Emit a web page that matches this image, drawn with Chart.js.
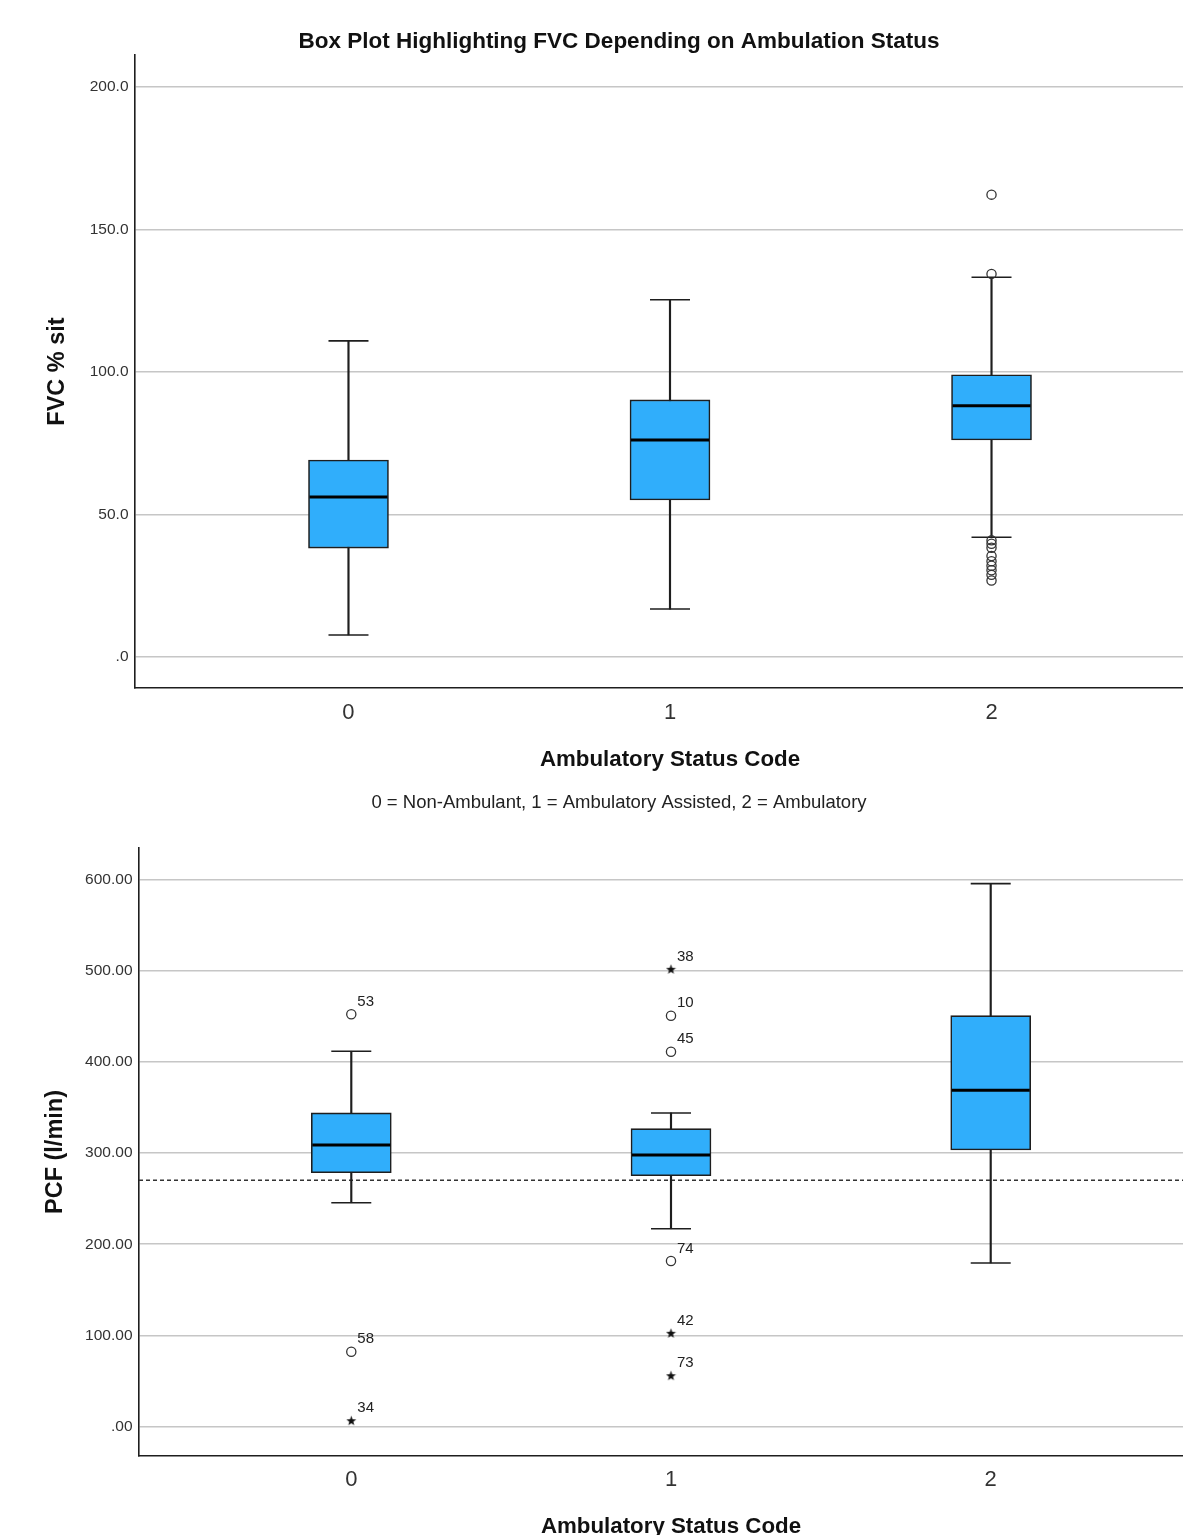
<!DOCTYPE html>
<html>
<head>
<meta charset="utf-8">
<title>Box Plot FVC / PCF by Ambulation Status</title>
<script src="https://cdn.jsdelivr.net/npm/chart.js@4.4.1/dist/chart.umd.min.js"></script>
<style>
    html, body { margin: 0; padding: 0; background: #fff; width: 1183px; height: 1535px; overflow: hidden; }
    .chart-box { position: absolute; left: 0; }
    #fvcBox { top: 0; }
    #pcfBox { top: 832px; }
</style>
</head>
<body>
<div class="chart-box" id="fvcBox"><canvas id="fvcChart" width="1238" height="830"></canvas></div>
<div class="chart-box" id="pcfBox"><canvas id="pcfChart" width="1238" height="713"></canvas></div>

<script>
// ==========================
// Data
// ==========================
const statusCodes = [0, 1, 2];
const statusLabels = ["0", "1", "2"];

// FVC % sit
const fvcLow = [7.7, 16.8, 42.0];
const fvcQ1 = [38.2, 55.1, 76.1];
const fvcMedian = [56.1, 76.1, 88.1];
const fvcQ3 = [69.1, 90.2, 99.0];
const fvcHigh = [110.9, 125.3, 133.2];
const fvcOutlierGroup = [2, 2, 2, 2, 2, 2, 2, 2, 2, 2, 2];
const fvcOutliers = [162.2, 134.4, 40.9, 39.7, 38.3, 35.4, 33.6, 32.0, 30.4, 28.8, 26.8];
const fvcTicks = [0, 50, 100, 150, 200];
const fvcTickLabels = [".0", "50.0", "100.0", "150.0", "200.0"];
const fvcRange = [-10.9, 211.2];

// PCF (l/min)
const pcfLow = [245.5, 217.0, 179.4];
const pcfQ1 = [278.4, 275.1, 303.3];
const pcfMedian = [308.8, 297.8, 368.7];
const pcfQ3 = [343.9, 326.7, 450.5];
const pcfHigh = [411.5, 343.9, 595.2];
const pcfCircleGroup = [0, 0, 1, 1, 1];
const pcfCircles = [452.0, 82.2, 450.5, 411.0, 181.6];
const pcfCircleIds = ["53", "58", "10", "45", "74"];
const pcfStarGroup = [0, 1, 1, 1];
const pcfStars = [6.6, 501.4, 102.4, 55.9];
const pcfStarIds = ["34", "38", "42", "73"];
const pcfCutoff = 270;
const pcfTicks = [0, 100, 200, 300, 400, 500, 600];
const pcfTickLabels = [".00", "100.00", "200.00", "300.00", "400.00", "500.00", "600.00"];
const pcfRange = [-32.1, 634.3];

const xRange = [-0.664, 2.664];

// ==========================
// Styling
// ==========================
const FONT = '"Liberation Sans", Arial, sans-serif';
const BOX_FILL = "#30aefb";
const INK = "#1e1e1e";
const GRID = "#c6c6c6";

// small filled star used for extreme values
function makeStar() {
    const c = document.createElement("canvas");
    c.width = 11; c.height = 11;
    const g = c.getContext("2d");
    g.fillStyle = "#111";
    g.beginPath();
    for (let i = 0; i < 10; i++) {
        const r = i % 2 === 0 ? 5.2 : 2.1;
        const a = -Math.PI / 2 + i * Math.PI / 5;
        g.lineTo(5.5 + r * Math.cos(a), 5.8 + r * Math.sin(a));
    }
    g.closePath();
    g.fill();
    return c;
}
const starImg = makeStar();

// ==========================
// Outlier id labels
// ==========================
const outlierLabels = {
    id: "outlierLabels",
    afterDatasetsDraw(chart) {
        const ctx = chart.ctx;
        chart.data.datasets.forEach((ds, i) => {
            if (!ds.ids) return;
            const meta = chart.getDatasetMeta(i);
            ctx.save();
            ctx.font = "15px " + FONT;
            ctx.fillStyle = "#222";
            ctx.textBaseline = "alphabetic";
            meta.data.forEach((pt, j) => ctx.fillText(ds.ids[j], pt.x + 6, pt.y - 8.5));
            ctx.restore();
        });
    }
};

// ==========================
// Box plot datasets
// ==========================
function boxDatasets(low, q1, med, q3, high) {
    return [
        {
            type: "bar",
            data: statusCodes.map((c, i) => ({ x: c, y: [q1[i], q3[i]] })),
            backgroundColor: BOX_FILL,
            borderColor: INK,
            borderWidth: 1.6,
            borderSkipped: false,
            barThickness: 80,
            grouped: false,
            order: 2
        },
        {
            type: "bar",
            data: statusCodes.map((c, i) => ({ x: c, y: [low[i], high[i]] })),
            backgroundColor: INK,
            borderWidth: 0,
            barThickness: 1.5,
            grouped: false,
            order: 3
        },
        {
            type: "scatter",
            data: statusCodes.map((c, i) => ({ x: c, y: low[i] }))
                .concat(statusCodes.map((c, i) => ({ x: c, y: high[i] }))),
            pointStyle: "line",
            pointRadius: 20,
            borderColor: INK,
            borderWidth: 1.6,
            order: 1
        },
        {
            type: "scatter",
            data: statusCodes.map((c, i) => ({ x: c, y: med[i] })),
            pointStyle: "line",
            pointRadius: 39,
            borderColor: "#000",
            borderWidth: 3,
            order: 0
        }
    ];
}

function circleDataset(groups, values, ids) {
    return {
        type: "scatter",
        data: groups.map((g, i) => ({ x: g, y: values[i] })),
        ids: ids,
        pointStyle: "circle",
        pointRadius: 4.6,
        backgroundColor: "rgba(255,255,255,0)",
        borderColor: "#333",
        borderWidth: 1.3,
        order: 0
    };
}

// ==========================
// Chart builder
// ==========================
function buildChart(canvasId, opt) {
    const ctx = document.getElementById(canvasId).getContext("2d");
    return new Chart(ctx, {
        type: "bar",
        data: { datasets: opt.datasets },
        options: {
            responsive: false,
            animation: false,
            events: [],
            layout: { padding: opt.padding, autoPadding: false },
            plugins: {
                legend: { display: false },
                tooltip: { enabled: false },
                title: opt.title,
                subtitle: opt.subtitle
            },
            scales: {
                x: {
                    type: "linear",
                    min: xRange[0],
                    max: xRange[1],
                    offset: false,
                    afterBuildTicks: s => { s.ticks = statusCodes.map(v => ({ value: v })); },
                    afterFit: s => { s.height = opt.xHeight; },
                    ticks: {
                        padding: opt.xTickPad,
                        color: "#333",
                        font: { family: FONT, size: 22, lineHeight: 1.2 },
                        callback: v => statusLabels[statusCodes.indexOf(v)]
                    },
                    grid: { color: "rgba(0,0,0,0)", drawTicks: false, offset: false },
                    border: { display: true, color: INK, width: 1.6 },
                    title: {
                        display: true,
                        text: "Ambulatory Status Code",
                        color: "#111",
                        padding: { top: 0, bottom: 0 },
                        font: { family: FONT, size: 22.3, weight: "bold", lineHeight: 1.2 }
                    }
                },
                y: {
                    min: opt.yRange[0],
                    max: opt.yRange[1],
                    beginAtZero: false,
                    afterBuildTicks: s => { s.ticks = opt.yTicks.map(v => ({ value: v })); },
                    afterFit: s => { s.width = opt.yWidth; },
                    ticks: {
                        padding: 6.5,
                        color: "#333",
                        font: { family: FONT, size: 15.5 },
                        callback: v => opt.yTickLabels[opt.yTicks.indexOf(v)]
                    },
                    grid: { color: GRID, lineWidth: 1.5, drawTicks: false },
                    border: { display: true, color: INK, width: 1.6 },
                    title: {
                        display: true,
                        text: opt.yTitle,
                        color: "#111",
                        padding: { top: opt.yTitlePad, bottom: 0 },
                        font: { family: FONT, size: 23.5, weight: "bold", lineHeight: 1.2 }
                    }
                }
            }
        },
        plugins: [outlierLabels]
    });
}

// ==========================
// FVC chart (top)
// ==========================
buildChart("fvcChart", {
    datasets: boxDatasets(fvcLow, fvcQ1, fvcMedian, fvcQ3, fvcHigh)
        .concat([circleDataset(fvcOutlierGroup, fvcOutliers, null)]),
    padding: { left: 33, right: 33, top: 0, bottom: 0 },
    yWidth: 102,
    yTitlePad: 10.9,
    xHeight: 85.4,
    xTickPad: 11.8,
    yRange: fvcRange,
    yTicks: fvcTicks,
    yTickLabels: fvcTickLabels,
    yTitle: "FVC % sit",
    title: {
        display: true,
        text: "Box Plot Highlighting FVC Depending on Ambulation Status",
        color: "#111",
        padding: { top: 28, bottom: 0 },
        font: { family: FONT, size: 22.5, weight: "bold", lineHeight: 1.2 }
    },
    subtitle: {
        display: true,
        position: "bottom",
        text: "0 = Non-Ambulant, 1 = Ambulatory Assisted, 2 = Ambulatory",
        color: "#222",
        padding: { top: 18.5, bottom: 15.9 },
        font: { family: FONT, size: 18.5, lineHeight: 1.2 }
    }
});

// ==========================
// PCF chart (bottom)
// ==========================
buildChart("pcfChart", {
    datasets: boxDatasets(pcfLow, pcfQ1, pcfMedian, pcfQ3, pcfHigh).concat([
        circleDataset(pcfCircleGroup, pcfCircles, pcfCircleIds),
        {
            type: "scatter",
            data: pcfStarGroup.map((g, i) => ({ x: g, y: pcfStars[i] })),
            ids: pcfStarIds,
            pointStyle: starImg,
            order: 0
        },
        {
            type: "line",
            data: [{ x: xRange[0], y: pcfCutoff }, { x: xRange[1], y: pcfCutoff }],
            borderColor: "#333",
            borderWidth: 1.5,
            borderDash: [4, 3],
            pointRadius: 0,
            fill: false,
            order: 5
        }
    ]),
    padding: { left: 41, right: 35, top: 16, bottom: 4.6 },
    yWidth: 98,
    yTitlePad: 0,
    xHeight: 84.4,
    xTickPad: 10.8,
    yRange: pcfRange,
    yTicks: pcfTicks,
    yTickLabels: pcfTickLabels,
    yTitle: "PCF (l/min)",
    title: { display: false },
    subtitle: { display: false }
});
</script>
</body>
</html>
